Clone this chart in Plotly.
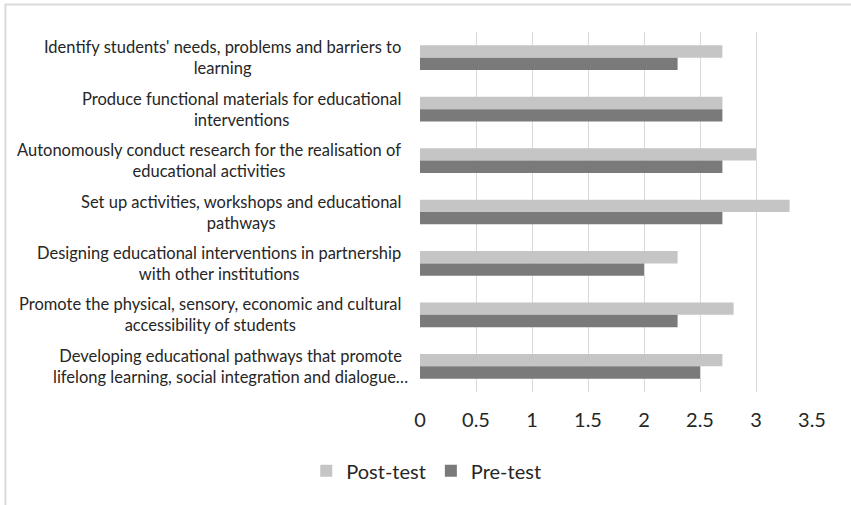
import plotly.graph_objects as go

# Competence areas (top to bottom), with line breaks for wrapped labels
categories = [
    "Identify students' needs, problems and barriers to<br>learning",
    "Produce functional materials for educational<br>interventions",
    "Autonomously conduct research for the realisation of<br>educational activities",
    "Set up activities, workshops and educational<br>pathways",
    "Designing educational interventions in partnership<br>with other institutions",
    "Promote the physical, sensory, economic and cultural<br>accessibility of students",
    "Developing educational pathways that promote<br>lifelong learning, social integration and dialogue…",
]
post_test = [2.7, 2.7, 3.0, 3.3, 2.3, 2.8, 2.7]
pre_test = [2.3, 2.7, 2.7, 2.7, 2.0, 2.3, 2.5]
x_ticks = [0, 0.5, 1, 1.5, 2, 2.5, 3, 3.5]
x_tick_labels = ["0", "0.5", "1", "1.5", "2", "2.5", "3", "3.5"]

FONT = "Lato"
TEXT = "#262626"

fig = go.Figure()
fig.add_trace(go.Bar(
    y=categories, x=post_test, name="Post-test", orientation="h",
    marker=dict(color="#C4C5C4", line=dict(width=0)),
))
fig.add_trace(go.Bar(
    y=categories, x=pre_test, name="Pre-test", orientation="h",
    marker=dict(color="#7A7A7A", line=dict(width=0)),
))

# Category labels: centred multi-line text in the label column
for i, cat in enumerate(categories):
    fig.add_annotation(
        xref="paper", yref="y", x=0, y=cat, text=cat,
        xanchor="right", yanchor="middle", align="center",
        xshift=-10 if i == len(categories) - 1 else -17,
        showarrow=False, font=dict(family=FONT, size=16.5, color=TEXT),
    )

# Light frame around the chart area
fig.add_shape(
    type="rect", xref="paper", yref="paper",
    x0=-1.0576, x1=1.12, y0=-0.35, y1=1.0763,
    line=dict(color="#D9D9D9", width=2), layer="below",
)

fig.update_layout(
    width=851, height=505,
    margin=dict(l=420, r=39, t=32, b=113),
    paper_bgcolor="white", plot_bgcolor="white",
    barmode="group", bargap=0.52, bargroupgap=0,
    font=dict(family=FONT, color=TEXT),
    xaxis=dict(
        range=[0, 3.5], tickvals=x_ticks, ticktext=x_tick_labels,
        showgrid=True, gridcolor="#D9D9D9", gridwidth=1,
        zeroline=False, showline=False, ticks="",
        ticklabelstandoff=14,
        tickfont=dict(family=FONT, size=20, color=TEXT),
        fixedrange=True,
    ),
    yaxis=dict(
        autorange="reversed", showticklabels=False, showgrid=False,
        zeroline=False, showline=False, ticks="", fixedrange=True,
    ),
    legend=dict(
        orientation="h", x=0.016, xanchor="center", y=-0.219, yanchor="middle",
        font=dict(family=FONT, size=20, color=TEXT),
        itemwidth=30, traceorder="normal",
    ),
)

fig.write_html("out.html")
